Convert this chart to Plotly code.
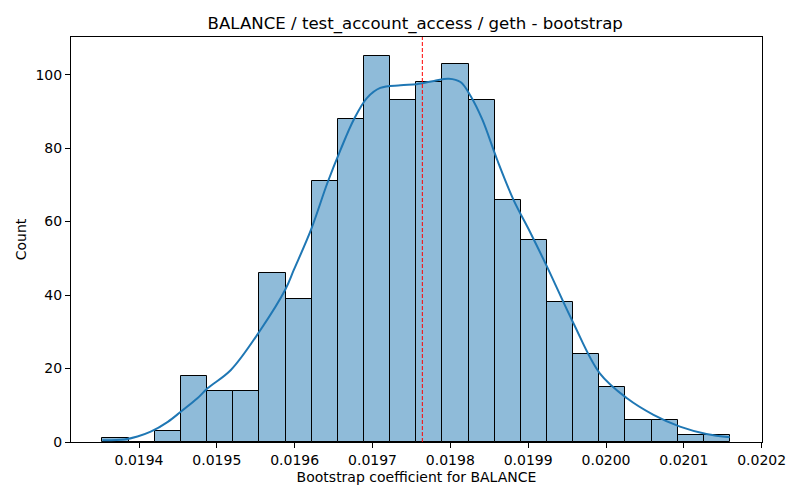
import plotly.graph_objects as go

# histogram bins
bin_start = 0.019353
bin_width = 0.0000336
counts = [1, 0, 3, 18, 14, 14, 46, 39, 71, 88, 105, 93,
          98, 103, 93, 66, 55, 38, 24, 15, 6, 6, 2, 2]

# kde curve, read point by point
kde_x = [0.019353, 0.019381, 0.019398, 0.019415, 0.019437, 0.019454,
         0.019475, 0.019488, 0.019518, 0.019556, 0.019588, 0.019599,
         0.019621, 0.019642, 0.019659, 0.019676, 0.019693, 0.019710,
         0.019736, 0.019757, 0.019779, 0.019798, 0.019813, 0.019826,
         0.019841, 0.019860, 0.019881, 0.019903, 0.019924, 0.019958,
         0.019992, 0.020027, 0.020061, 0.020095, 0.020129, 0.020159]
kde_y = [0.5, 0.7, 1.5, 2.8, 5.5, 8.3,
         11.9, 14.6, 19.6, 30.5, 41.5, 46.9,
         57.8, 70.5, 79.6, 87.8, 93.7, 96.4,
         97.1, 97.4, 98.3, 98.9, 98.0, 94.2,
         87.8, 76.9, 66.0, 56.9, 47.8, 32.4,
         18.7, 11.9, 7.4, 4.2, 2.2, 1.3]

mean_value = 0.019764

x_ticks = [0.0194, 0.0195, 0.0196, 0.0197, 0.0198, 0.0199, 0.0200, 0.0201, 0.0202]
y_ticks = [0, 20, 40, 60, 80, 100]

centers = [bin_start + bin_width * (i + 0.5) for i in range(len(counts))]

fig = go.Figure()

fig.add_trace(go.Bar(
    x=centers, y=counts, width=bin_width,
    marker={"color": "rgba(31,119,180,0.5)", "line": {"color": "black", "width": 1}},
    showlegend=False,
))

fig.add_trace(go.Scatter(
    x=kde_x, y=kde_y, mode="lines",
    line={"color": "#1f77b4", "width": 2, "shape": "spline"},
    showlegend=False,
))

# mean line
fig.add_shape(type="line", xref="x", yref="paper", x0=mean_value, x1=mean_value, y0=0, y1=1,
              line={"color": "red", "width": 1, "dash": "4px,2px"})

axis_common = {
    "showline": True, "linecolor": "black", "linewidth": 1, "mirror": True,
    "ticks": "outside", "ticklen": 5, "tickcolor": "black",
    "showgrid": False, "zeroline": False, "automargin": False,
    "tickfont": {"size": 14, "color": "black"},
}

# the page puts the figure 8px in from the corner, so margins are shifted
fig.update_layout(
    width=800, height=500,
    margin={"l": 63, "r": 46, "t": 29, "b": 66},
    plot_bgcolor="white", paper_bgcolor="white",
    font={"family": "DejaVu Sans", "color": "black"},
    bargap=0,
    title={"text": "BALANCE / test_account_access / geth - bootstrap",
           "x": 0.509, "xanchor": "center", "y": 1 - 15 / 500, "yanchor": "middle",
           "font": {"size": 16.6}},
    xaxis={**axis_common, "range": [0.0193126, 0.0202004], "tickvals": x_ticks,
           "tickformat": ".4f",
           "title": {"text": "Bootstrap coefficient for BALANCE", "font": {"size": 14}, "standoff": 5}},
    yaxis={**axis_common, "range": [0, 110.25], "tickvals": y_ticks,
           "title": {"text": "Count", "font": {"size": 14}, "standoff": 5}},
)

fig.write_html("out.html")
